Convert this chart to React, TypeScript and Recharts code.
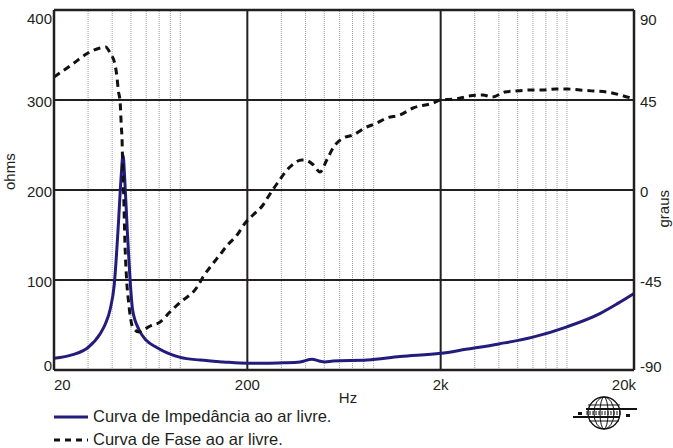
import { LineChart, Line, XAxis, YAxis, ReferenceLine, Legend } from 'recharts'

// impedance curve (ohms) vs frequency (Hz)
const impFreq = [
  20, 25, 30, 34.6, 37, 39, 41, 43, 44.5, 45.5, 46.5, 48, 49.5, 51, 55, 60, 68, 77, 90, 114, 150,
  200, 250, 307, 375, 432, 470, 504, 555, 834, 1234, 2000, 2700, 4000, 6000, 9000, 13400, 16500, 20000,
]
const impOhms = [
  13, 17, 25, 40, 52, 67, 95, 160, 215, 239, 210, 150, 100, 67, 45, 33, 25, 19, 14, 11, 9,
  7.5, 7.5, 8, 9, 12, 10, 9, 10, 11, 15, 18.5, 23, 29, 36.5, 48, 63, 74, 85,
]

// phase curve (degrees) vs frequency (Hz)
const phaseFreq = [
  20, 25, 30, 34.6, 37, 39, 41.4, 42.4, 43, 44, 44.6, 45, 45.2, 45.8, 46.5, 47.5, 48.5, 51, 55,
  57.8, 63, 70.8, 79.5, 89, 110, 118, 131, 144, 158, 177, 195, 214, 241, 256, 284, 332, 383,
  396, 440, 475, 515, 555, 626, 705, 810, 935, 1050, 1230, 1440, 1830, 2000, 2400, 2800, 3300,
  3700, 4300, 4900, 5800, 6700, 7900, 9000, 10500, 12300, 14500, 17000, 20000,
]
const phaseDeg = [
  56.5, 63, 68.5, 71, 71.5, 68.5, 62.5, 56, 50, 43.5, 31.5, 25, 16.5, 0, -25, -45, -55, -68.5, -71,
  -70, -68, -66, -61, -56.5, -48.5, -43.5, -37.5, -32.5, -27.5, -22.5, -16.5, -12.5, -7.5, -3.5, 3, 11.5, 15,
  15, 12.5, 9, 15, 21, 26, 27.5, 31, 33.5, 36, 37.5, 41, 43.5, 45, 45.5, 47, 47.5,
  46.5, 49, 49.5, 50, 50, 50.5, 50.5, 50, 49.5, 49, 47.5, 45.5,
]

const xTicks = [20, 200, 2000, 20000]
const xTickLabels = ['20', '200', '2k', '20k']
const ohmTicks = [0, 100, 200, 300, 400]
const degTicks = [-90, -45, 0, 45, 90]
const minorFreqs = [
  30, 40, 50, 60, 70, 80, 90, 300, 400, 500, 600, 700, 800, 900, 3000, 4000, 5000, 6000, 7000, 8000, 9000,
]
const majorFreqs = [200, 2000]
const majorOhms = [100, 200, 300]

const impData = impFreq.map((f, i) => ({ f, ohms: impOhms[i] }))
const phaseData = phaseFreq.map((f, i) => ({ f, deg: phaseDeg[i] }))

const FONT = '"Liberation Sans", Arial, sans-serif'
const INK = '#231f20'
const NAVY = '#231c7c'

function LeftTick({ x, y, payload }: any) {
  const v = payload.value
  const dy = v === 400 ? 8 : v === 0 ? -5 : 1
  return (
    <text x={x} y={y + dy} textAnchor="end" dominantBaseline="central" fontSize={15} fill={INK} fontFamily={FONT}>
      {v}
    </text>
  )
}

function RightTick({ x, y, payload }: any) {
  const v = payload.value
  const dy = v === 90 ? 9 : v === -90 ? -4 : 1
  return (
    <text x={x} y={y + dy} textAnchor="start" dominantBaseline="central" fontSize={15} fill={INK} fontFamily={FONT}>
      {v}
    </text>
  )
}

function BottomTick({ x, y, payload }: any) {
  const v = payload.value
  const i = xTicks.indexOf(v)
  const anchor = i === 0 ? 'start' : i === xTicks.length - 1 ? 'end' : 'middle'
  const dx = i === xTicks.length - 1 ? 2 : 0
  return (
    <text x={x + dx} y={y + 14} textAnchor={anchor} dominantBaseline="central" fontSize={15} fill={INK} fontFamily={FONT}>
      {xTickLabels[i]}
    </text>
  )
}

function LegendBox() {
  return (
    <div style={{ fontFamily: FONT, fontSize: 16.5, color: INK, lineHeight: '23px' }}>
      <div style={{ display: 'flex', alignItems: 'center' }}>
        <svg width={39} height={10}>
          <line x1={0} y1={5} x2={34} y2={5} stroke={NAVY} strokeWidth={3} />
        </svg>
        <span>Curva de Impedância ao ar livre.</span>
      </div>
      <div style={{ display: 'flex', alignItems: 'center' }}>
        <svg width={39} height={10}>
          <line x1={0} y1={5} x2={34} y2={5} stroke="#111" strokeWidth={3} strokeDasharray="6 5" />
        </svg>
        <span>Curva de Fase ao ar livre.</span>
      </div>
    </div>
  )
}

function Logo() {
  return (
    <svg width={66} height={40} style={{ position: 'absolute', left: 572, top: 394 }}>
      <circle cx={32} cy={19} r={16} fill="none" stroke="#111" strokeWidth={1.3} />
      <ellipse cx={32} cy={19} rx={10} ry={16} fill="none" stroke="#111" strokeWidth={1} />
      <ellipse cx={32} cy={19} rx={4} ry={16} fill="none" stroke="#111" strokeWidth={1} />
      <line x1={16} y1={11} x2={48} y2={11} stroke="#111" strokeWidth={1} />
      <line x1={17} y1={27} x2={47} y2={27} stroke="#111" strokeWidth={1} />
      <line x1={14} y1={15} x2={65} y2={15} stroke="#111" strokeWidth={2.2} />
      <line x1={14} y1={18} x2={50} y2={18} stroke="#111" strokeWidth={1} strokeDasharray="2 1" />
      <line x1={14} y1={20} x2={50} y2={20} stroke="#111" strokeWidth={1} strokeDasharray="2 1" />
      <line x1={1} y1={23} x2={48} y2={23} stroke="#111" strokeWidth={2.2} />
      <rect x={6} y={18} width={4} height={3} fill="#111" />
      <rect x={54} y={20} width={4} height={3} fill="#111" />
    </svg>
  )
}

export default function App() {
  return (
    <div style={{ position: 'absolute', left: 0, top: 0, width: 673, height: 448, background: '#fff' }}>
      <LineChart width={673} height={448} margin={{ top: 10, right: 0, bottom: 0, left: 0 }}>
        <XAxis
          dataKey="f"
          type="number"
          scale="log"
          domain={[20, 20000]}
          ticks={xTicks}
          allowDataOverflow
          height={78}
          tickSize={0}
          tickMargin={0}
          tick={<BottomTick />}
          axisLine={{ stroke: INK, strokeWidth: 2.5 }}
          label={{ value: 'Hz', position: 'insideBottom', offset: 45, dx: 4, fontSize: 15, fill: INK, fontFamily: FONT }}
        />
        <YAxis
          yAxisId="ohm"
          domain={[0, 400]}
          ticks={ohmTicks}
          width={54}
          tickSize={0}
          tickMargin={2}
          tick={<LeftTick />}
          axisLine={{ stroke: INK, strokeWidth: 2.5 }}
          label={{ value: 'ohms', angle: -90, position: 'insideLeft', offset: 10, fontSize: 15, fill: INK, fontFamily: FONT }}
        />
        <YAxis
          yAxisId="deg"
          orientation="right"
          domain={[-90, 90]}
          ticks={degTicks}
          width={39}
          tickSize={0}
          tickMargin={6}
          tick={<RightTick />}
          axisLine={{ stroke: INK, strokeWidth: 2.5 }}
          label={{ value: 'graus', angle: -90, position: 'insideRight', offset: 9, fontSize: 15, fill: INK, fontFamily: FONT }}
        />
        {minorFreqs.map((f) => (
          <ReferenceLine key={f} x={f} yAxisId="ohm" stroke="#a0a0a0" strokeWidth={1} strokeDasharray="1 1" />
        ))}
        {majorFreqs.map((f) => (
          <ReferenceLine key={f} x={f} yAxisId="ohm" stroke={INK} strokeWidth={2} />
        ))}
        {majorOhms.map((v) => (
          <ReferenceLine key={v} y={v} yAxisId="ohm" stroke={INK} strokeWidth={2} />
        ))}
        <ReferenceLine y={400} yAxisId="ohm" stroke={INK} strokeWidth={2.5} />
        <Line
          data={impData}
          dataKey="ohms"
          yAxisId="ohm"
          type="monotone"
          stroke={NAVY}
          strokeWidth={3}
          dot={false}
          isAnimationActive={false}
        />
        <Line
          data={phaseData}
          dataKey="deg"
          yAxisId="deg"
          type="monotone"
          stroke="#111"
          strokeWidth={3}
          strokeDasharray="7 5"
          dot={false}
          isAnimationActive={false}
        />
        <Legend
          layout="vertical"
          align="center"
          verticalAlign="middle"
          wrapperStyle={{ left: 54, top: 405, width: 340 }}
          content={<LegendBox />}
        />
      </LineChart>
      <Logo />
    </div>
  )
}
